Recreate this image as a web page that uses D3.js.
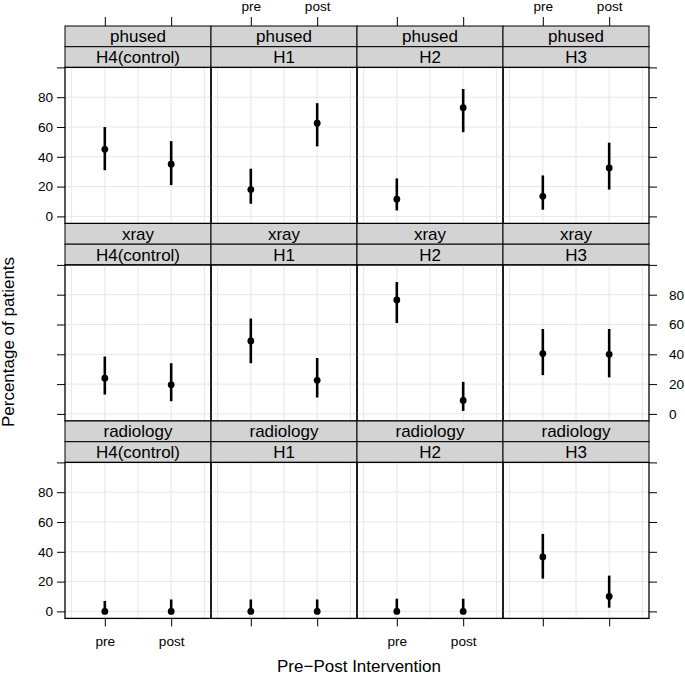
<!DOCTYPE html>
<html>
<head>
  <title>Pre-Post Intervention</title>
  <script src="https://d3js.org/d3.v7.min.js"></script>
  <style>
    body { margin: 0; background: white; }
    text { font-family: "Liberation Sans", Arial, Helvetica, sans-serif; }
  </style>
</head>
<body>
  <div id="chart"></div>
  <script>
    // Data: percentage of patients with 95% interval
    const outcomes = ["phused", "xray", "radiology"];
    const groups = ["H4(control)", "H1", "H2", "H3"];
    const periods = ["pre", "post"];
    const yTicks = [0, 20, 40, 60, 80, 100];

    // each array is [group][period] in the order of groups / periods above
    const pctPhused = [[45, 35], [18, 62.5], [11.5, 73], [13.5, 32.5]];
    const lowPhused = [[31, 21], [8.5, 47], [4, 56.5], [4.5, 18]];
    const highPhused = [[60, 50.5], [32, 76], [25.5, 85.5], [27.5, 49.5]];

    const pctXray = [[24, 19.5], [49, 22.5], [76.5, 9], [40.5, 40]];
    const lowXray = [[13, 8.5], [34, 11], [61, 2], [26, 24.5]];
    const highXray = [[38.5, 34], [64, 37.5], [88.5, 21.5], [57, 57]];

    const pctRadiology = [[0, 0], [0, 0], [0, 0], [36.5, 10]];
    const lowRadiology = [[0, 0], [0, 0], [0, 0], [22, 2.5]];
    const highRadiology = [[7, 8], [8, 8], [8.5, 8.5], [52, 24]];

    const est = [pctPhused, pctXray, pctRadiology];
    const lower = [lowPhused, lowXray, lowRadiology];
    const upper = [highPhused, highXray, highRadiology];

    // layout
    const W = 685, H = 675;
    const marginLeft = 65, marginTop = 26;
    const panelW = 146, panelH = 156, stripH = 20.7, rowStep = 197.5;
    const tickFont = 13.6, labelFont = 17;

    const svg = d3.select("#chart").append("svg")
      .attr("width", W)
      .attr("height", H);

    const x = d3.scaleLinear().domain([0.4, 2.6]).range([0, panelW]);
    const y = d3.scaleLinear().domain([-4.7, 100]).range([panelH, 0]);

    function styleAxis(g) {
      g.select(".domain").remove();
      g.selectAll(".tick line").attr("stroke", "#000").attr("stroke-width", 1);
      g.selectAll(".tick text")
        .attr("fill", "#000")
        .style("font-size", tickFont + "px")
        .style("font-family", "'Liberation Sans', Arial, sans-serif");
    }

    outcomes.forEach(function(outcome, r) {
      groups.forEach(function(group, c) {
        const x0 = marginLeft + c * panelW;
        const rowTop = marginTop + r * rowStep;
        const panelTop = rowTop + 2 * stripH;

        const cell = svg.append("g").attr("transform", "translate(" + x0 + "," + rowTop + ")");

        // strips: outcome above, group below
        [outcome, group].forEach(function(label, i) {
          cell.append("rect")
            .attr("x", 0).attr("y", i * stripH)
            .attr("width", panelW).attr("height", stripH)
            .attr("fill", "#d3d3d3")
            .attr("stroke", "#000").attr("stroke-width", 1);
          cell.append("text")
            .attr("x", panelW / 2).attr("y", i * stripH + stripH / 2 + 6)
            .attr("text-anchor", "middle")
            .style("font-size", labelFont + "px")
            .text(label);
        });

        const panel = svg.append("g").attr("transform", "translate(" + x0 + "," + panelTop + ")");

        // grid
        panel.selectAll(".hgrid").data([0, 20, 40, 60, 80]).enter().append("line")
          .attr("x1", 0).attr("x2", panelW)
          .attr("y1", d => y(d)).attr("y2", d => y(d))
          .attr("stroke", "#e6e6e6").attr("stroke-width", 1);
        panel.selectAll(".vgrid").data([0.5, 1, 1.5, 2, 2.5]).enter().append("line")
          .attr("y1", 0).attr("y2", panelH)
          .attr("x1", d => x(d)).attr("x2", d => x(d))
          .attr("stroke", "#e6e6e6").attr("stroke-width", 1);

        const pts = periods.map((p, i) => ({
          pos: i + 1,
          v: est[r][c][i],
          lo: lower[r][c][i],
          hi: upper[r][c][i]
        }));

        panel.selectAll(".bar").data(pts).enter().append("line")
          .attr("x1", d => x(d.pos)).attr("x2", d => x(d.pos))
          .attr("y1", d => y(d.lo)).attr("y2", d => y(d.hi))
          .attr("stroke", "#000").attr("stroke-width", 2.6);

        panel.selectAll(".dot").data(pts).enter().append("circle")
          .attr("cx", d => x(d.pos)).attr("cy", d => y(d.v))
          .attr("r", 3.4).attr("fill", "#000");

        panel.append("rect")
          .attr("width", panelW).attr("height", panelH)
          .attr("fill", "none").attr("stroke", "#000").attr("stroke-width", 1.3);

        const fmtY = d => d === 100 ? "" : d;

        // left axis on first column, labelled on rows 1 and 3
        if (c === 0) {
          panel.append("g")
            .call(d3.axisLeft(y).tickValues(yTicks).tickSize(8).tickPadding(4)
              .tickFormat(r === 1 ? () => "" : fmtY))
            .call(styleAxis);
        }
        // right axis on last column, labelled on row 2
        if (c === groups.length - 1) {
          panel.append("g")
            .attr("transform", "translate(" + panelW + ",0)")
            .call(d3.axisRight(y).tickValues(yTicks).tickSize(8).tickPadding(12)
              .tickFormat(r === 1 ? fmtY : () => ""))
            .call(styleAxis);
        }
        // top axis on first row, labelled on columns 2 and 4
        if (r === 0) {
          cell.append("g")
            .call(d3.axisTop(x).tickValues([1, 2]).tickSize(9).tickPadding(6)
              .tickFormat(c % 2 === 1 ? (d => periods[d - 1]) : () => ""))
            .call(styleAxis);
        }
        // bottom axis on last row, labelled on columns 1 and 3
        if (r === outcomes.length - 1) {
          panel.append("g")
            .attr("transform", "translate(0," + panelH + ")")
            .call(d3.axisBottom(x).tickValues([1, 2]).tickSize(8).tickPadding(10)
              .tickFormat(c % 2 === 0 ? (d => periods[d - 1]) : () => ""))
            .call(styleAxis);
        }
      });
    });

    // axis titles
    svg.append("text")
      .attr("x", 359).attr("y", 672)
      .attr("text-anchor", "middle")
      .style("font-size", labelFont + "px")
      .text("Pre\u2212Post Intervention");

    svg.append("text")
      .attr("transform", "translate(14,342) rotate(-90)")
      .attr("text-anchor", "middle")
      .style("font-size", labelFont + "px")
      .text("Percentage of patients");
  </script>
</body>
</html>
